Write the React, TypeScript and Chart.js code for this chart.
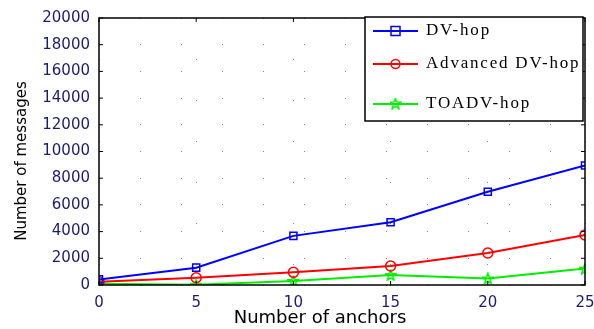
import React, { useEffect, useRef } from "react";
import { Chart, registerables } from "chart.js";
Chart.register(...registerables);

const anchors = [0, 5, 10, 15, 20, 25];
const dvHop = [420, 1300, 3680, 4700, 6980, 8950];
const advancedDvHop = [240, 540, 950, 1420, 2400, 3750];
const toadvHop = [100, 20, 300, 740, 490, 1230];
const seriesNames = ["DV-hop", "Advanced DV-hop", "TOADV-hop"];
const seriesColors = ["#0000ff", "#ff0000", "#00ee00"];
const yTicks = [0, 2000, 4000, 6000, 8000, 10000, 12000, 14000, 16000, 18000, 20000];

function makeStar(color: string) {
  const c = document.createElement("canvas");
  c.width = 12;
  c.height = 12;
  const ctx = c.getContext("2d")!;
  ctx.strokeStyle = color;
  ctx.lineWidth = 1.5;
  ctx.beginPath();
  for (let i = 0; i < 10; i++) {
    const r = i % 2 === 0 ? 5.5 : 2.3;
    const a = -Math.PI / 2 + (i * Math.PI) / 5;
    const x = 6 + r * Math.cos(a);
    const y = 6.5 + r * Math.sin(a);
    if (i === 0) ctx.moveTo(x, y);
    else ctx.lineTo(x, y);
  }
  ctx.closePath();
  ctx.stroke();
  return c;
}

export default function App() {
  const ref = useRef<HTMLCanvasElement>(null);
  useEffect(() => {
    document.body.style.margin = "0";
    const star = makeStar(seriesColors[2]);
    const styles: any[] = ["rect", "circle", star];
    const radii = [5, 5, 6];
    const datas = [dvHop, advancedDvHop, toadvHop];

    const framePlugin = {
      id: "frame",
      afterDraw(chart: any) {
        const { ctx, chartArea: a, scales } = chart;
        ctx.save();
        ctx.strokeStyle = "#000";
        ctx.lineWidth = 1.5;
        ctx.strokeRect(a.left, a.top, a.right - a.left, a.bottom - a.top);
        ctx.lineWidth = 1;
        ctx.beginPath();
        for (const v of yTicks) {
          const y = scales.y.getPixelForValue(v);
          ctx.moveTo(a.left, y);
          ctx.lineTo(a.left + 4, y);
          ctx.moveTo(a.right, y);
          ctx.lineTo(a.right - 4, y);
        }
        for (const v of anchors) {
          const x = scales.x.getPixelForValue(v);
          ctx.moveTo(x, a.bottom);
          ctx.lineTo(x, a.bottom - 4);
          ctx.moveTo(x, a.top);
          ctx.lineTo(x, a.top + 4);
        }
        ctx.stroke();

        // axis titles
        ctx.fillStyle = "#000";
        ctx.font = "18px 'DejaVu Sans'";
        ctx.textAlign = "center";
        ctx.textBaseline = "middle";
        ctx.fillText("Number of anchors", 320, 318);
        ctx.save();
        ctx.translate(22, 161);
        ctx.rotate(-Math.PI / 2);
        ctx.font = "15px 'DejaVu Sans'";
        ctx.fillText("Number of messages", 0, 0);
        ctx.restore();

        // legend
        const bx = 365, by = 17, bw = 218, bh = 104;
        ctx.fillStyle = "#fff";
        ctx.fillRect(bx, by, bw, bh);
        ctx.strokeStyle = "#000";
        ctx.lineWidth = 1.5;
        ctx.strokeRect(bx, by, bw, bh);
        const rows = [31, 64, 104];
        ctx.font = "17px 'Liberation Serif'";
        ctx.textAlign = "left";
        (ctx as any).letterSpacing = "1.8px";
        for (let i = 0; i < 3; i++) {
          const y = rows[i];
          ctx.strokeStyle = seriesColors[i];
          ctx.lineWidth = 2;
          ctx.beginPath();
          ctx.moveTo(373, y);
          ctx.lineTo(418, y);
          ctx.stroke();
          ctx.lineWidth = 1.5;
          if (i === 0) {
            ctx.strokeRect(391, y - 4.5, 9, 9);
          } else if (i === 1) {
            ctx.beginPath();
            ctx.arc(395.5, y, 4.5, 0, Math.PI * 2);
            ctx.stroke();
          } else {
            ctx.drawImage(star, 389.5, y - 6.5);
          }
          ctx.fillStyle = "#000";
          ctx.fillText(seriesNames[i], 426, y);
        }
        ctx.restore();
      },
    };

    const chart = new Chart(ref.current!, {
      type: "line",
      data: {
        datasets: datas.map((d, i) => ({
          label: seriesNames[i],
          data: d.map((v, j) => ({ x: anchors[j], y: v })),
          borderColor: seriesColors[i],
          backgroundColor: "transparent",
          pointBackgroundColor: "transparent",
          pointBorderColor: seriesColors[i],
          pointBorderWidth: 1.5,
          pointStyle: styles[i],
          pointRadius: radii[i],
          borderWidth: 2,
          tension: 0,
        })),
      },
      plugins: [framePlugin],
      options: {
        animation: false,
        responsive: false,
        events: [],
        layout: { padding: { left: 0, top: 13, right: 0, bottom: 0 } },
        plugins: { legend: { display: false }, tooltip: { enabled: false } },
        scales: {
          x: {
            type: "linear",
            min: 0,
            max: 25,
            afterFit(s: any) {
              s.height = 44;
              s.paddingRight = 9;
            },
            afterBuildTicks(s: any) {
              s.ticks = anchors.map((v) => ({ value: v }));
            },
            border: { display: false, dash: [1, 40] },
            grid: { color: "#888", drawTicks: false, lineWidth: 1 },
            ticks: {
              color: "#1c1c6e",
              font: { family: "'DejaVu Sans'", size: 15 },
              padding: 9,
              maxRotation: 0,
              callback: (v: any) => String(v),
            },
          },
          y: {
            min: 0,
            max: 20000,
            afterFit(s: any) {
              s.width = 99;
            },
            afterBuildTicks(s: any) {
              s.ticks = yTicks.map((v) => ({ value: v }));
            },
            border: { display: false, dash: [1, 40] },
            grid: { color: "#888", drawTicks: false, lineWidth: 1 },
            ticks: {
              color: "#1c1c6e",
              font: { family: "'DejaVu Sans'", size: 15 },
              padding: 9,
              callback: (v: any) => String(v),
            },
          },
        },
      },
    });
    return () => chart.destroy();
  }, []);
  return (
    <div style={{ position: "fixed", left: 0, top: 0, width: 594, height: 329 }}>
      <canvas ref={ref} width={594} height={329} />
    </div>
  );
}
